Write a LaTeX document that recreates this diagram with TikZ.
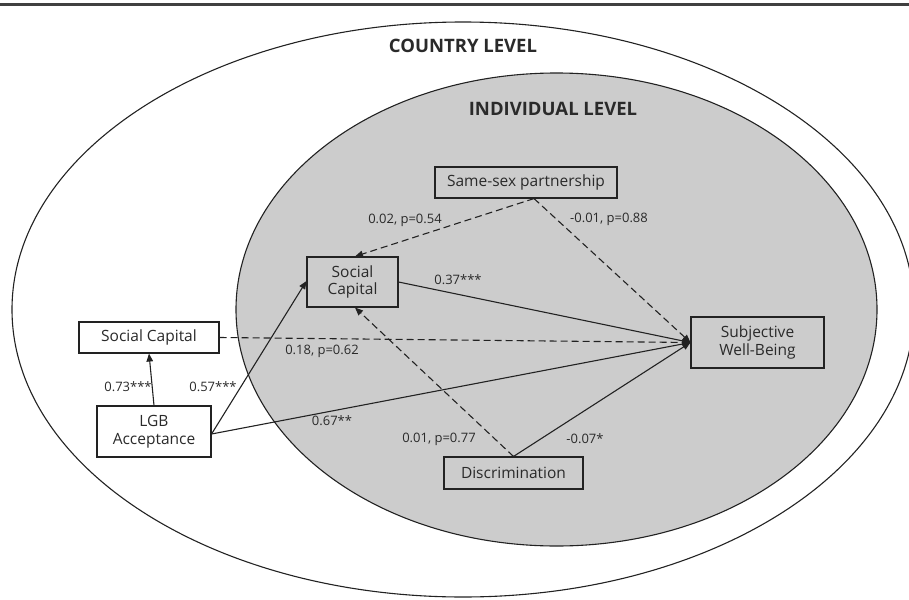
\documentclass[tikz,border=0pt]{standalone}
\usepackage{fontspec}
\setmainfont{Open Sans}
\usetikzlibrary{arrows.meta}
\definecolor{linec}{HTML}{222222}
\definecolor{textc}{HTML}{2A2A2A}
\definecolor{innerfill}{HTML}{CCCCCC}
\begin{document}
\begin{tikzpicture}[x=1pt,y=-1pt,
  vbox/.style={draw=linec,line width=1.1pt,inner sep=0pt,align=center,
    font=\fontsize{15.5}{17.5}\selectfont,text=textc},
  heading/.style={font=\bfseries\fontsize{18.5}{20}\selectfont,text=textc},
  lab/.style={font=\fontsize{13}{14}\selectfont,text=textc,inner sep=0pt},
  conn/.style={draw=linec,line width=1.1pt,-{Triangle[length=8pt,width=6.5pt]}},
  dconn/.style={conn,dash pattern=on 7pt off 4pt}]
\useasboundingbox (0,0) rectangle (909,599);
% top rule
\draw[line width=2.4pt,color=black!75] (0,4.5) -- (909,4.5);
% ellipses
\draw[line width=1.1pt,color=linec] (463,309.5) ellipse [x radius=451, y radius=287.5];
\draw[line width=1.1pt,color=linec,fill=innerfill] (556.5,309.5) ellipse [x radius=320.5, y radius=236.5];
% headings
\node[heading] (country) at (463,46) {COUNTRY LEVEL};
\node[heading] (indiv) at (553,109) {INDIVIDUAL LEVEL};
% boxes
\node[vbox,minimum width=182pt,minimum height=31pt] (ssp) at (526,182.5) {Same-sex partnership};
\node[vbox,minimum width=91pt,minimum height=50pt] (sci) at (352.5,282) {Social\\Capital};
\node[vbox,fill=white,minimum width=140pt,minimum height=31pt] (sco) at (149,337.5) {Social Capital};
\node[vbox,fill=white,minimum width=114pt,minimum height=51pt] (lgb) at (154,431.5) {LGB\\Acceptance};
\node[vbox,minimum width=139pt,minimum height=32pt] (disc) at (513.5,473) {Discrimination};
\node[vbox,minimum width=133pt,minimum height=51pt] (swb) at (757.5,342.5) {Subjective\\Well-Being};
% anchor points
\coordinate (lgbr) at ([yshift=-2.5pt]lgb.east);
\coordinate (sspb) at ([xshift=8pt]ssp.south);
% connectors
\draw[conn] (lgb.north) -- (sco.south);
\draw[conn] (lgbr) -- ([yshift=1pt]sci.west);
\draw[conn] (lgbr) -- (swb.west);
\draw[dconn] (sco.east) -- (swb.west);
\draw[conn] (sci.east) -- (swb.west);
\draw[dconn] (sspb) -- ([xshift=2.5pt]sci.north);
\draw[dconn] (sspb) -- (swb.west);
\draw[dconn] (disc.north) -- ([xshift=2.5pt]sci.south);
\draw[conn] (disc.north) -- (swb.west);
% labels
\node[lab] (l1) at (405,220) {0.02, p=0.54};
\node[lab] (l2) at (609,219) {-0.01, p=0.88};
\node[lab] (l3) at (458,280) {0.37***};
\node[lab] (l4) at (322,351) {0.18, p=0.62};
\node[lab] (l5) at (128,387) {0.73***};
\node[lab] (l6) at (213,387) {0.57***};
\node[lab] (l7) at (332,421) {0.67**};
\node[lab] (l8) at (439,439) {0.01, p=0.77};
\node[lab] (l9) at (585,439) {-0.07*};
\end{tikzpicture}
\end{document}
